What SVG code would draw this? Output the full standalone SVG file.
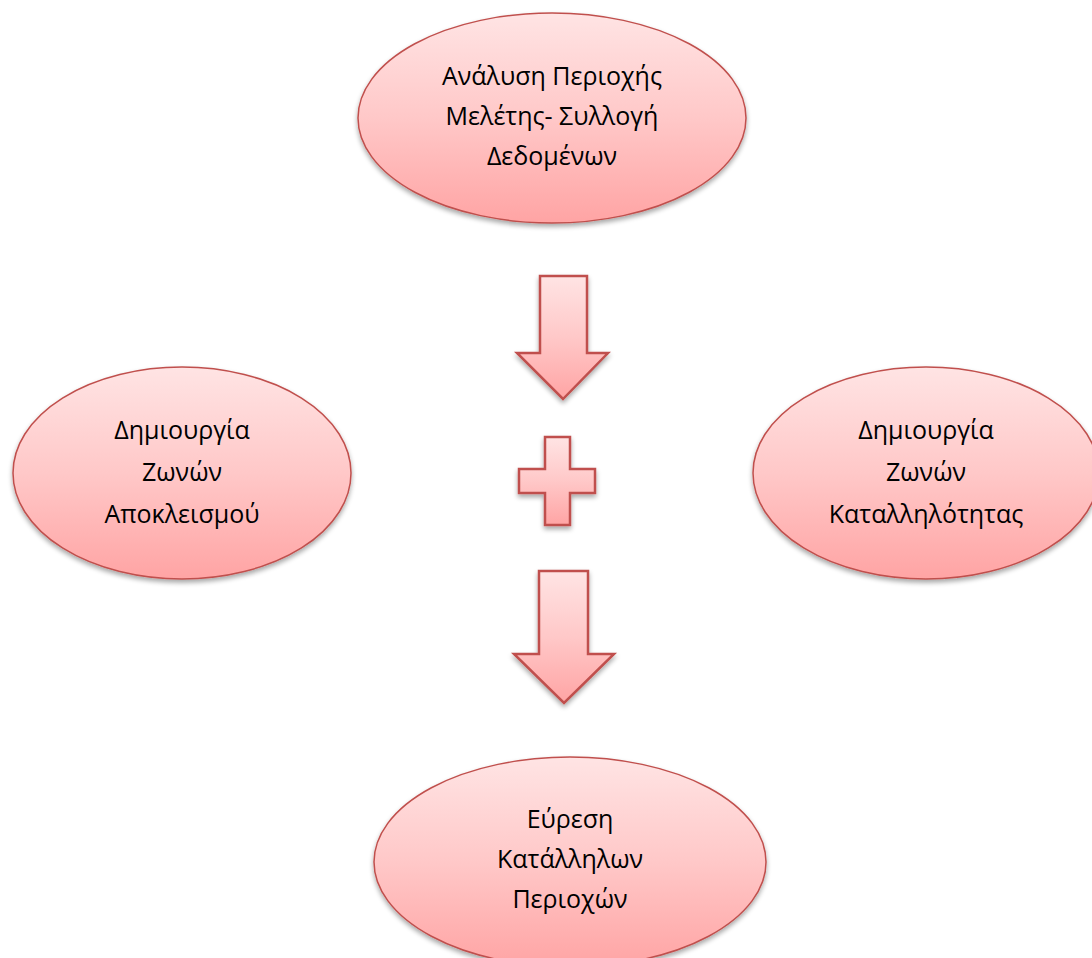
<svg xmlns="http://www.w3.org/2000/svg" width="1092" height="958" viewBox="0 0 1092 958">
<style>
.node{fill:url(#g);stroke:#C0504D;stroke-width:1.5;filter:url(#sh)}
.shape{fill:url(#g);stroke:#C0504D;stroke-width:2.5;stroke-linejoin:miter;filter:url(#sh)}
.t{font-family:"Open Sans","Noto Sans","DejaVu Sans",sans-serif;font-size:25px;fill:#000;text-anchor:middle}
</style>
<defs>
<linearGradient id="g" x1="0" y1="0" x2="0" y2="1">
<stop offset="0" stop-color="#FFE4E4"/>
<stop offset="0.5" stop-color="#FFC8C8"/>
<stop offset="1" stop-color="#FFA4A4"/>
</linearGradient>
<filter id="sh" x="-10%" y="-10%" width="120%" height="130%">
<feGaussianBlur in="SourceAlpha" stdDeviation="2.5"/>
<feOffset dx="0" dy="3" result="b"/>
<feComponentTransfer><feFuncA type="linear" slope="0.35"/></feComponentTransfer>
<feMerge><feMergeNode/><feMergeNode in="SourceGraphic"/></feMerge>
</filter>
</defs>
<rect width="1092" height="958" fill="#fff"/>
<g id="n1">
<ellipse class="node" cx="552" cy="118" rx="194" ry="105"/>
<text class="t" x="552" y="85">Ανάλυση Περιοχής</text>
<text class="t" x="552" y="125">Μελέτης- Συλλογή</text>
<text class="t" x="552" y="165">Δεδομένων</text>
</g>
<g id="n2">
<ellipse class="node" cx="182" cy="473" rx="169" ry="106"/>
<text class="t" x="182" y="439">Δημιουργία</text>
<text class="t" x="182" y="481">Ζωνών</text>
<text class="t" x="182" y="523">Αποκλεισμού</text>
</g>
<g id="n3">
<ellipse class="node" cx="926" cy="473" rx="173" ry="106"/>
<text class="t" x="926" y="439">Δημιουργία</text>
<text class="t" x="926" y="481">Ζωνών</text>
<text class="t" x="926" y="523">Καταλληλότητας</text>
</g>
<g id="n4">
<ellipse class="node" cx="570" cy="862" rx="196" ry="105"/>
<text class="t" x="570" y="828">Εύρεση</text>
<text class="t" x="570" y="868">Κατάλληλων</text>
<text class="t" x="570" y="908">Περιοχών</text>
</g>
<g id="connectors">
<path class="shape" d="M540,276 H587 V353 H608 L563,399 L517,353 H540 Z"/>
<path class="shape" d="M545,437 H570 V469 H595 V493 H570 V525 H545 V493 H519 V469 H545 Z"/>
<path class="shape" d="M539,571 H588 V654 H614 L564,703 L514,654 H539 Z"/>
</g>
</svg>
